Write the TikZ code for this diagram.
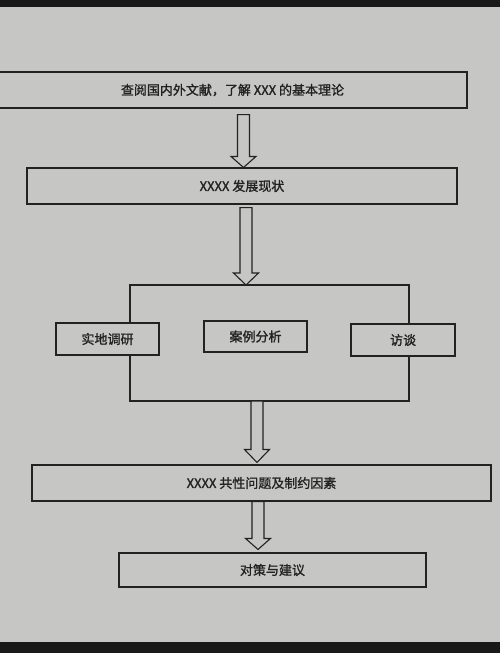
\documentclass[tikz,border=0pt]{standalone}
\usepackage{fontspec}
\newfontfamily\cjk[FakeBold=1.3]{Noto Sans CJK SC}
\usetikzlibrary{calc}
\definecolor{bg}{HTML}{C6C7C4}
\definecolor{ink}{HTML}{222222}
\tikzset{
  box/.style={draw=ink, line width=1.1pt, fill=bg, inner sep=0pt,
    font=\cjk\fontsize{13}{15}\selectfont, text=ink},
  link/.style={draw=ink, line width=1.1pt},
  hollow/.style={draw=ink, line width=1.1pt, fill=bg, line join=miter},
}
% #1 start node anchor, #2 end node anchor, #3 x centre (pt), #4 gap at start, #5 gap at end, #6 head length
\newcommand\hollowarr[6]{%
  \draw[hollow] let \p1=(#1), \p2=(#2) in
    (#3pt-6pt,\y1-#4pt) -- (#3pt+6pt,\y1-#4pt) -- (#3pt+6pt,\y2+#5pt+#6pt)
    -- (#3pt+12.5pt,\y2+#5pt+#6pt) -- (#3pt,\y2+#5pt) -- (#3pt-12.5pt,\y2+#5pt+#6pt)
    -- (#3pt-6pt,\y2+#5pt+#6pt) -- cycle;}
\begin{document}
\begin{tikzpicture}[x=1pt,y=-1pt]
\useasboundingbox (0,0) rectangle (500,653);
\fill[bg] (0,0) rectangle (500,653);
\fill[black!90] (0,0) rectangle (500,7);
\fill[black!90] (0,642) rectangle (500,653);

\node[box, minimum width=469pt, minimum height=36pt] (b1) at (232.5,90) {查阅国内外文献，了解 XXX 的基本理论};
\node[box, minimum width=430pt, minimum height=36pt] (b2) at (242,186) {XXXX 发展现状};
\node[box, minimum width=103pt, minimum height=32pt] (m1) at (107.5,339) {实地调研};
\node[box, minimum width=103pt, minimum height=31pt] (m2) at (255.5,336.5) {案例分析};
\node[box, minimum width=104pt, minimum height=32pt] (m3) at (403,340) {访谈};
\node[box, minimum width=459pt, minimum height=36pt] (b4) at (261.5,483) {XXXX 共性问题及制约因素};
\node[box, minimum width=307pt, minimum height=34pt] (b5) at (272.5,570) {对策与建议};

\coordinate (tl) at (130,285);
\coordinate (tr) at (409,285);
\coordinate (bl) at (130,401);
\coordinate (br) at (409,401);

\draw[link] (m1.north -| tl) -- (tl) -- (tr) -- (m3.north -| tr);
\draw[link] (m1.south -| bl) -- (bl) -- (br) -- (m3.south -| br);

\hollowarr{b1.south}{b2.north}{243.5}{6}{0}{11}
\hollowarr{b2.south}{tl}{246}{3}{0}{12}
\hollowarr{bl}{b4.north}{257}{0}{2}{13}
\hollowarr{b4.south}{b5.north}{258}{0}{3}{11}
\end{tikzpicture}
\end{document}
